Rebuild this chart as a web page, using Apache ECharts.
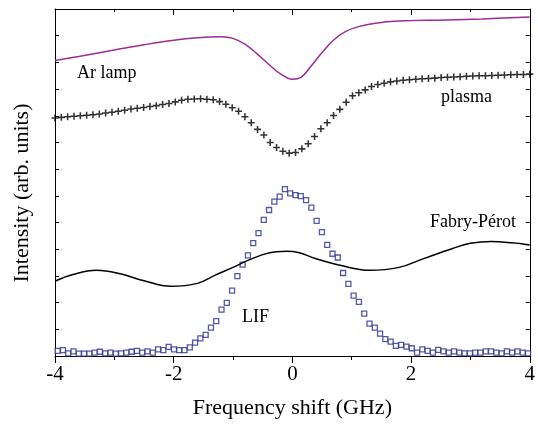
<!DOCTYPE html>
<html>
<head>
<meta charset="utf-8">
<script src="https://cdn.jsdelivr.net/npm/echarts@6/dist/echarts.min.js"></script>
<style>
  html, body { margin: 0; padding: 0; background: #fff; }
  #chart { width: 538px; height: 424px; }
</style>
</head>
<body>
<div id="chart"></div>
<script>
// frequency shift in GHz, intensity in arbitrary units (0..13 on the axis)

// Ar lamp trace
var arFreq = [-4.0, -3.6, -3.0, -2.5, -2.0, -1.6, -1.2, -1.0, -0.8, -0.6, -0.4, -0.2, 0.0, 0.15, 0.3, 0.5, 0.7, 0.9, 1.1, 1.4, 1.8, 2.6, 3.2, 4.0];
var arVal  = [11.07, 11.22, 11.46, 11.66, 11.83, 11.92, 11.96, 11.90, 11.68, 11.33, 10.93, 10.57, 10.37, 10.45, 10.82, 11.37, 11.85, 12.16, 12.33, 12.47, 12.55, 12.59, 12.63, 12.70];

// plasma absorption (crosses), evenly sampled from -4 to 4
var plasmaStart = -4.0;
var plasmaStep = 8 / 75;
var plasmaVal = [
  8.92, 8.94, 8.96, 8.98, 9.00, 9.02, 9.04, 9.07, 9.10, 9.13,
  9.17, 9.21, 9.25, 9.28, 9.31, 9.35, 9.38, 9.42, 9.46, 9.52,
  9.58, 9.62, 9.63, 9.64, 9.62, 9.60, 9.53, 9.43, 9.30, 9.17,
  8.96, 8.74, 8.49, 8.28, 8.00, 7.81, 7.67, 7.60, 7.62, 7.76,
  7.95, 8.22, 8.51, 8.74, 9.01, 9.24, 9.51, 9.75, 9.86, 9.97,
  10.10, 10.17, 10.22, 10.27, 10.30, 10.33, 10.35, 10.37, 10.39, 10.40,
  10.41, 10.43, 10.44, 10.45, 10.46, 10.48, 10.49, 10.50, 10.50, 10.51,
  10.52, 10.53, 10.54, 10.55, 10.55, 10.56
];

// Fabry-Perot trace
var fpFreq = [-4.0, -3.7, -3.3, -2.9, -2.5, -2.05, -1.6, -1.3, -1.0, -0.7, -0.4, -0.1, 0.1, 0.4, 0.8, 1.3, 1.8, 2.2, 2.7, 3.0, 3.35, 3.7, 4.0];
var fpVal  = [2.80, 3.05, 3.21, 3.08, 2.82, 2.61, 2.72, 3.03, 3.32, 3.63, 3.86, 3.92, 3.88, 3.64, 3.40, 3.21, 3.32, 3.64, 4.03, 4.22, 4.29, 4.24, 4.16];

// LIF signal (open squares)
var lifStart = -3.955;
var lifStep = 0.08906;
var lifVal = [
  0.19, 0.22, 0.10, 0.17, 0.09, 0.09, 0.09, 0.13, 0.16, 0.10,
  0.13, 0.09, 0.10, 0.13, 0.16, 0.19, 0.13, 0.17, 0.13, 0.25,
  0.22, 0.34, 0.25, 0.22, 0.22,
  0.32, 0.50, 0.66, 0.79, 1.06, 1.31, 1.74, 1.99, 2.45, 2.99,
  3.42, 3.77, 4.23, 4.60, 5.10, 5.47, 5.78, 5.97, 6.25, 6.09,
  6.03, 5.99, 5.84, 5.56, 5.06, 4.64, 4.16, 3.83, 3.69,
  3.11, 2.70, 2.26, 2.03, 1.59, 1.21, 1.06, 0.84, 0.63, 0.54,
  0.38, 0.42, 0.35, 0.29, 0.13, 0.25, 0.19, 0.13, 0.23, 0.17,
  0.13, 0.17, 0.13, 0.10, 0.10, 0.13, 0.13, 0.17, 0.17, 0.13,
  0.10, 0.17, 0.13, 0.17, 0.13, 0.10
];

var xTicks = [-4, -2, 0, 2, 4];

var serif = "'Liberation Serif', 'Times New Roman', serif";
var plusPath = 'path://M0,3.9H10V6.1H0Z M3.9,0H6.1V10H3.9Z';

function pairs(xs, ys) {
  return ys.map(function (v, i) { return [xs[i], v]; });
}
function gridPairs(start, step, ys) {
  return ys.map(function (v, i) { return [start + i * step, v]; });
}

function makeOption() {
  var yCommon = {
    type: 'value', min: 0, max: 13, interval: 1,
    axisLine: { show: true, onZero: false, lineStyle: { color: '#000', width: 1 } },
    axisTick: { show: true, inside: true, length: 4, lineStyle: { color: '#000' } },
    axisLabel: { show: false },
    splitLine: { show: false }
  };
  return {
    animation: false,
    backgroundColor: '#fff',
    grid: { left: 55, right: 6, top: 9, bottom: 66 },
    xAxis: [
      {
        type: 'value', min: -4, max: 4, interval: 2, position: 'bottom',
        axisLine: { show: true, onZero: false, lineStyle: { color: '#000', width: 1 } },
        axisTick: { show: true, inside: false, length: 7, lineStyle: { color: '#000' } },
        minorTick: { show: true, splitNumber: 2, length: 4, lineStyle: { color: '#000' } },
        axisLabel: {
          color: '#000', fontFamily: serif, fontSize: 21, margin: 8,
          formatter: function (v) { return xTicks.indexOf(v) >= 0 ? String(v) : ''; }
        },
        splitLine: { show: false },
        name: 'Frequency shift (GHz)',
        nameLocation: 'middle',
        nameGap: 41,
        nameTextStyle: { color: '#000', fontFamily: serif, fontSize: 22 }
      },
      {
        type: 'value', min: -4, max: 4, interval: 2, position: 'top',
        axisLine: { show: true, onZero: false, lineStyle: { color: '#000', width: 1 } },
        axisTick: { show: true, inside: true, length: 6, lineStyle: { color: '#000' } },
        minorTick: { show: true, splitNumber: 2, length: 3, lineStyle: { color: '#000' } },
        axisLabel: { show: false },
        splitLine: { show: false }
      }
    ],
    yAxis: [
      Object.assign({ position: 'left' }, yCommon),
      Object.assign({ position: 'right' }, yCommon)
    ],
    graphic: [
      { type: 'text', x: 77, y: 73, style: { text: 'Ar lamp', font: '18px ' + serif, fill: '#000', textAlign: 'left', textVerticalAlign: 'middle' } },
      { type: 'text', x: 441, y: 97, style: { text: 'plasma', font: '18px ' + serif, fill: '#000', textAlign: 'left', textVerticalAlign: 'middle' } },
      { type: 'text', x: 430, y: 222, style: { text: 'Fabry-Pérot', font: '18px ' + serif, fill: '#000', textAlign: 'left', textVerticalAlign: 'middle' } },
      { type: 'text', x: 242, y: 317, style: { text: 'LIF', font: '18px ' + serif, fill: '#000', textAlign: 'left', textVerticalAlign: 'middle' } },
      { type: 'text', x: 22, y: 193, rotation: Math.PI / 2,
        style: { text: 'Intensity (arb. units)', font: '22px ' + serif, fill: '#000', textAlign: 'center', textVerticalAlign: 'middle' } }
    ],
    series: [
      {
        name: 'Ar lamp', type: 'line', data: pairs(arFreq, arVal),
        smooth: 0.4, showSymbol: false,
        lineStyle: { color: '#9b2c98', width: 1.5 }
      },
      {
        name: 'plasma', type: 'scatter', data: gridPairs(plasmaStart, plasmaStep, plasmaVal),
        symbol: plusPath, symbolSize: 7,
        itemStyle: { color: '#000' }
      },
      {
        name: 'Fabry-Pérot', type: 'line', data: pairs(fpFreq, fpVal),
        smooth: 0.4, showSymbol: false,
        lineStyle: { color: '#000', width: 1.5 }
      },
      {
        name: 'LIF', type: 'scatter', data: gridPairs(lifStart, lifStep, lifVal),
        symbol: 'rect', symbolSize: 5,
        itemStyle: { color: '#fff', borderColor: '#283090', borderWidth: 1.3 }
      }
    ]
  };
}

var chart = echarts.init(document.getElementById('chart'));
chart.setOption(makeOption());
</script>
</body>
</html>
